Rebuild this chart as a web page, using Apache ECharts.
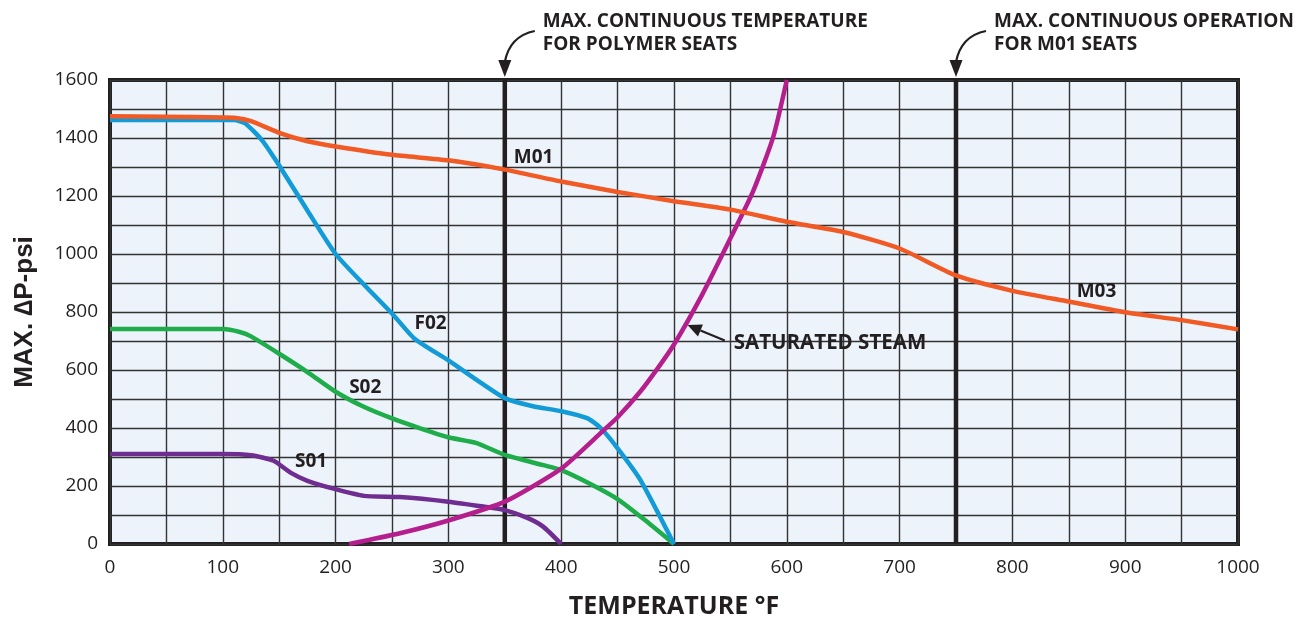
<!DOCTYPE html>
<html><head><meta charset="utf-8">
<script src="https://cdn.jsdelivr.net/npm/echarts@6/dist/echarts.min.js"></script>
<style>html,body{margin:0;padding:0;background:#fff}#c{width:1310px;height:621px}</style>
</head><body><div id="c"></div>
<script>
// ---- data ----
const m01T = [0,50,100,110,125,150,175,200,250,300,350,400,450,500,550,600,650,700,750,800,850,900,950,1000];
const m01P = [1475,1473,1471,1470,1458,1418,1389,1371,1342,1323,1291,1250,1214,1182,1153,1111,1076,1019,926,873,836,799,772,740];
const f02T = [0,50,100,110,120,135,150,175,200,225,250,270,300,325,350,375,400,423,435,450,470,500];
const f02P = [1462,1462,1462,1462,1450,1391,1305,1150,1000,895,795,708,633,566,503,475,458,434,400,330,222,0];
const s02T = [0,50,100,115,125,150,175,200,225,250,275,300,325,350,384,400,425,450,475,500];
const s02P = [741,741,741,731,716,656,593,525,473,433,399,368,348,307,272,255,209,155,80,0];
const s01T = [0,50,100,125,145,160,175,200,225,257,300,331,350,370,384,400];
const s01P = [310,310,310,306,287,246,218,189,166,162,146,129,117,90,60,0];
const steamT = [212,257,300,350,400,437,450,470,485,500,525,550,570,588,600];
const steamP = [0,37,81,146,260,390,437,525,603,688,860,1054,1215,1404,1600];
const limitT = [350, 750];
const xTicks = [0,100,200,300,400,500,600,700,800,900,1000];
const yTicks = [0,200,400,600,800,1000,1200,1400,1600];
const curveLabels = [
  {text:'M01', t:358, p:1334, size:19},
  {text:'F02', t:270, p:759, size:19},
  {text:'S02', t:212, p:540, size:19},
  {text:'S01', t:164, p:284, size:19},
  {text:'M03', t:857, p:872, size:19},
  {text:'SATURATED STEAM', t:553, p:694, size:20.5}
];
const limitNotes = [
  ['MAX. CONTINUOUS TEMPERATURE','FOR POLYMER SEATS'],
  ['MAX. CONTINUOUS OPERATION','FOR M01 SEATS']
];

const ink = '#231f20';
const zip = (a,b)=>a.map((v,i)=>[v,b[i]]);
const font = '"Open Sans", sans-serif';

function lineSeries(name, T, P, color){
  return {name, type:'line', data:zip(T,P), symbol:'none', smooth:0.2,
    lineStyle:{color, width:4.5}, z:5, silent:true};
}

const chart = echarts.init(document.getElementById('c'), null, {renderer:'canvas'});
const series = [
  lineSeries('S01', s01T, s01P, '#6f2c91'),
  lineSeries('S02', s02T, s02P, '#1fad4b'),
  lineSeries('F02', f02T, f02P, '#129bd6'),
  lineSeries('Steam', steamT, steamP, '#b51f8d'),
  lineSeries('M01', m01T, m01P, '#f15a24'),
];
limitT.forEach((t,i)=>{
  series.push({name:'limit'+i, type:'line', data:[[t,0],[t,1600]], symbol:'none',
    lineStyle:{color:ink, width:4.5}, z:4, silent:true});
});

chart.setOption({
  animation:false,
  grid:{left:110, right:72, top:80, bottom:77, containLabel:false, outerBoundsMode:'none',
    show:true, backgroundColor:'#edf3fa', borderColor:ink, borderWidth:4},
  xAxis:{type:'value', min:0, max:1000, interval:50,
    axisLine:{show:false}, axisTick:{show:false},
    splitLine:{show:true, lineStyle:{color:'#333', width:1.4}},
    axisLabel:{color:ink, fontFamily:font, fontSize:19, margin:14,
      formatter:v=> xTicks.includes(v) ? String(v) : ''},
    name:'TEMPERATURE °F', nameLocation:'middle', nameGap:50,
    nameTextStyle:{color:ink, fontFamily:font, fontWeight:'bold', fontSize:25}},
  yAxis:{type:'value', min:0, max:1600, interval:100,
    axisLine:{show:false}, axisTick:{show:false},
    splitLine:{show:true, lineStyle:{color:'#333', width:1.4}},
    axisLabel:{color:ink, fontFamily:font, fontSize:19, margin:12,
      formatter:v=> yTicks.includes(v) ? String(v) : ''},
    name:'MAX. ∆P-psi', nameLocation:'middle', nameGap:72, nameRotate:90,
    nameTextStyle:{color:ink, fontFamily:'"Liberation Sans", Arial, sans-serif', fontWeight:'bold', fontSize:26}},
  series
});

// ---- annotations positioned through the axes ----
const px = (t,p)=>chart.convertToPixel({gridIndex:0},[t,p]);
const g = [];
const mkStyle = (text,size)=>({text, fill:ink, font:'bold '+size+'px "Open Sans", sans-serif', verticalAlign:'middle', align:'left'});
curveLabels.forEach(l=>{
  const [x,y] = px(l.t,l.p);
  g.push({type:'text', x, y, z:20, style:mkStyle(l.text, l.size)});
});
limitT.forEach((t,i)=>{
  const [x,y] = px(t,1600);
  g.push({type:'text', x:x+38, y:y-58, z:20, style:mkStyle(limitNotes[i][0],19)});
  g.push({type:'text', x:x+38, y:y-35, z:20, style:mkStyle(limitNotes[i][1],19)});
  g.push({type:'bezierCurve', z:20, shape:{x1:x+30,y1:y-49,cpx1:x+5,cpy1:y-44,x2:x,y2:y-18},
    style:{stroke:ink, lineWidth:2.2, fill:null}});
  g.push({type:'polygon', z:20, shape:{points:[[x-6.5,y-20],[x+6.5,y-20],[x,y-3]]}, style:{fill:ink}});
});
// steam arrow
{
  const [hx,hy] = px(512,755);
  const [tx,ty] = px(545,702);
  const ang = Math.atan2(hy-ty, hx-tx);
  const L=14, W=6.5;
  const bx = hx - L*Math.cos(ang), by = hy - L*Math.sin(ang);
  const nx = -Math.sin(ang), ny = Math.cos(ang);
  g.push({type:'line', z:20, shape:{x1:tx,y1:ty,x2:bx,y2:by}, style:{stroke:ink, lineWidth:2.2}});
  g.push({type:'polygon', z:20, shape:{points:[[hx,hy],[bx+nx*W,by+ny*W],[bx-nx*W,by-ny*W]]}, style:{fill:ink}});
}
chart.setOption({graphic:g});
</script></body></html>
